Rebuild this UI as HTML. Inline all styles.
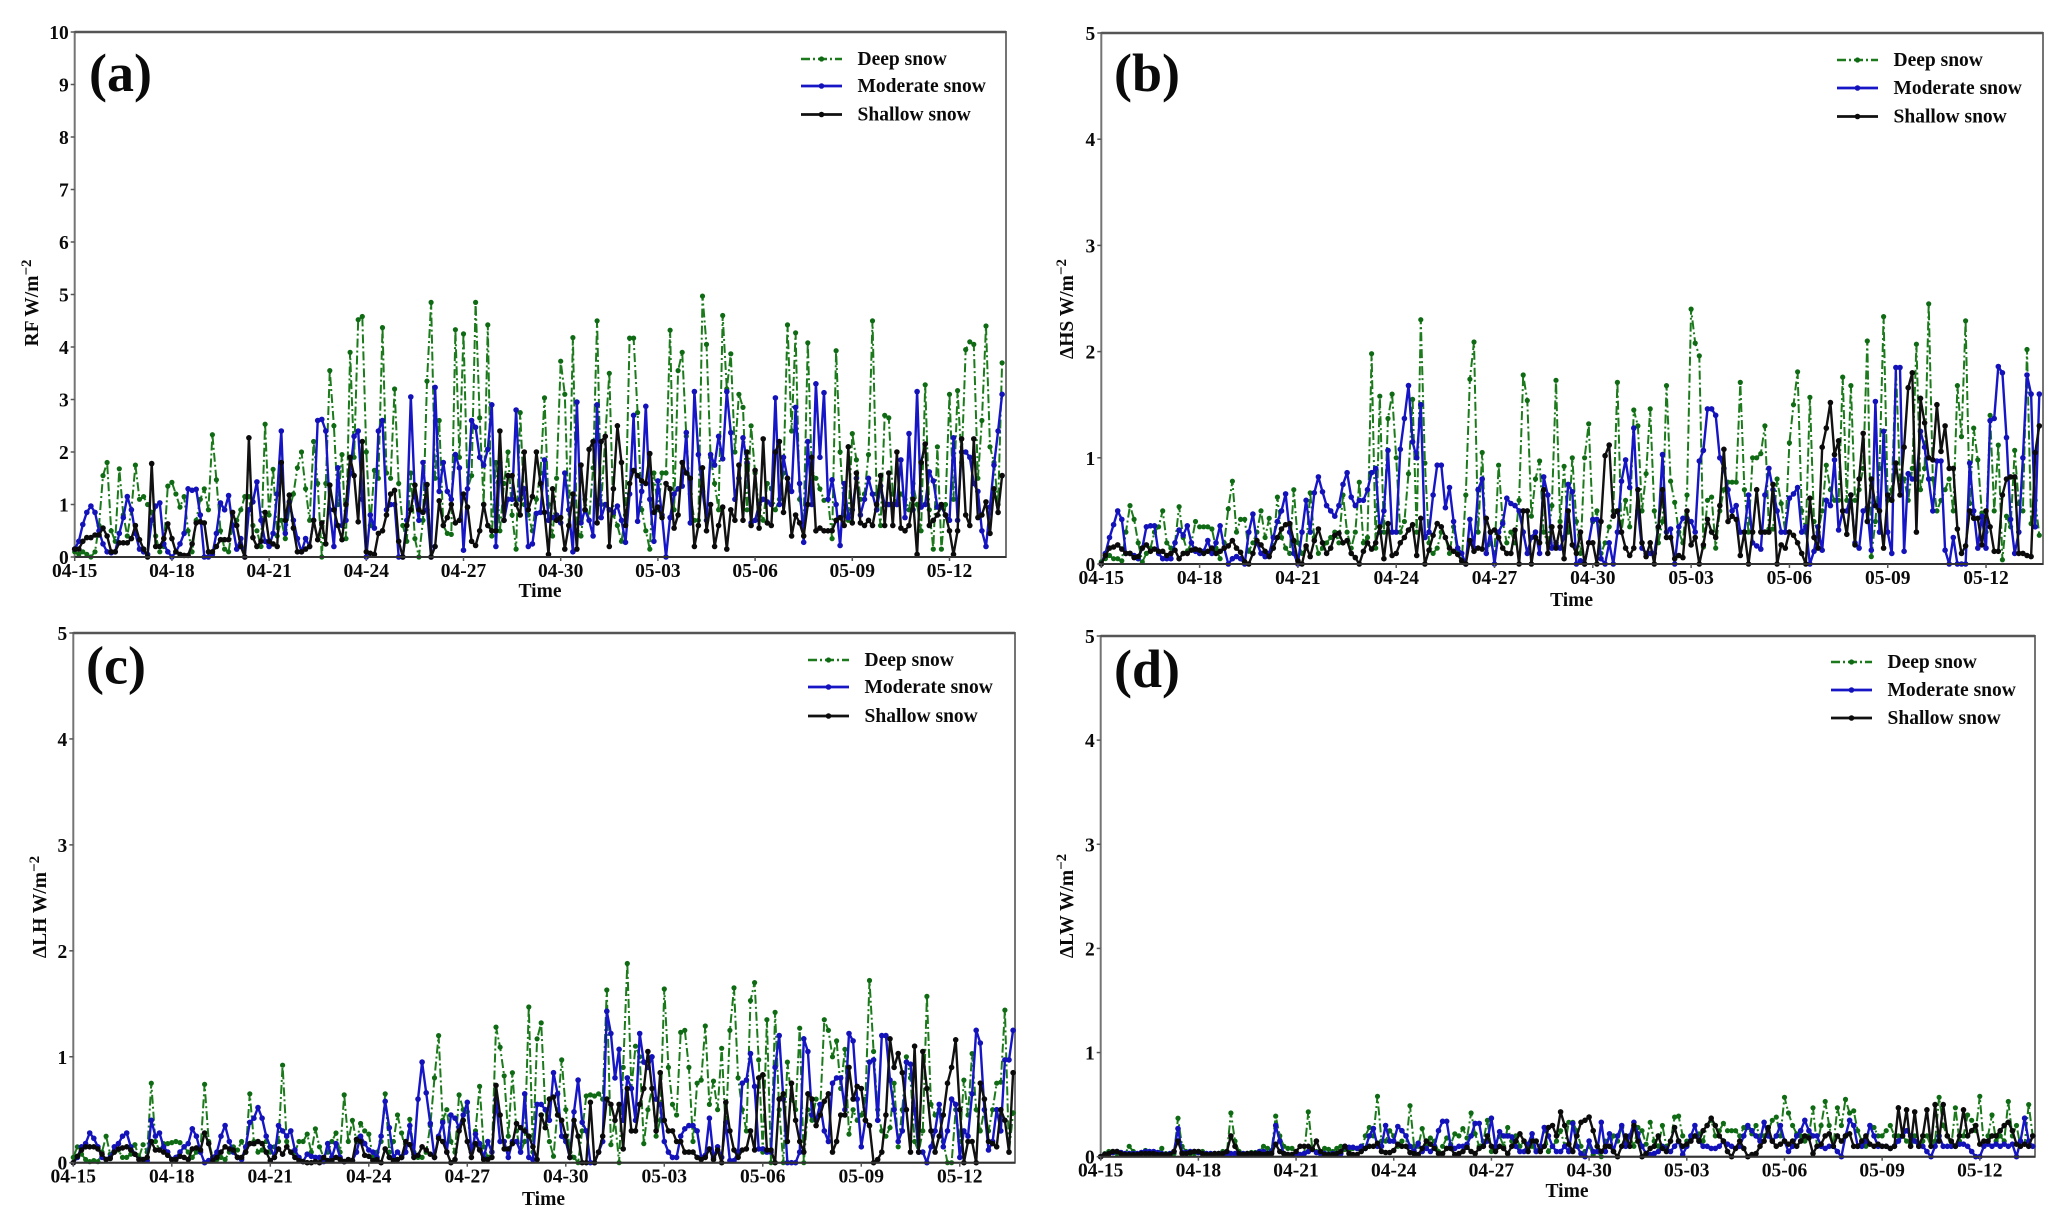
<!DOCTYPE html>
<html lang="en">
<head>
<meta charset="utf-8">
<title>Radiative forcing and flux differences by snow depth</title>
<style>
html,body{margin:0;padding:0;background:#fff;}
svg{display:block;}
text{font-family:"Liberation Serif",serif;font-weight:bold;fill:#0a0a0a;}
</style>
</head>
<body>
<svg id="figure" xmlns="http://www.w3.org/2000/svg" width="2067" height="1224" viewBox="0 0 2067 1224"></svg>
<script>
const dateLabels = ['04-15','04-18','04-21','04-24','04-27','04-30','05-03','05-06','05-09','05-12'];
const seriesNames = ['Deep snow','Moderate snow','Shallow snow'];
const yTicksA = [0,1,2,3,4,5,6,7,8,9,10];
const yTicksOther = [0,1,2,3,4,5];

const rfDeep = [
.1,.05,.1,.05,0,.1,.6,1.55,
1.8,.5,.3,1.68,.8,.4,.9,1.75,
1.1,1.15,1,.85,.4,.1,.2,1.35,
1.42,1.2,.95,1.15,.5,.1,.7,1.1,
1.3,.9,2.33,1.47,.5,.15,.1,.6,
.7,.9,1.15,1.15,.6,.5,.2,2.53,
.8,1.67,.4,.7,.35,.9,1.2,1.7,
2,1.3,.7,2.2,1.4,0,1.4,3.55,
2.5,1,1.95,.35,3.9,1.9,4.52,4.58,
2,.6,1.65,1.5,4.37,1.6,1.5,3.2,
1.4,.6,.3,1.6,.35,0,.7,3.35,
4.85,1.5,2.6,.6,.45,.43,4.33,1.9,
4.25,1.3,1.55,4.85,2.65,1,4.42,.4,
1.8,.5,1.4,2,.8,.15,2.75,1,
.8,.5,1.1,1.6,3.03,1,.4,1.5,
3.73,3.1,.6,4.18,.5,.4,1.1,.7,
1.7,4.5,1,2.3,3.5,.8,.6,.3,
.8,4.17,4.17,2.75,.9,.5,.15,1.6,
.9,1.6,1.6,4.32,.9,3.55,3.9,2.3,
1.2,.7,.7,4.97,4.05,1.9,1.4,.9,
4.6,3.2,3.87,2,3.1,2.85,.9,2.5,
1.6,.9,.7,1.4,1.3,.9,1.1,1.6,
4.42,2.4,4.27,1.1,.7,4.08,1.6,1.5,
1.3,1.08,1.1,.35,3.93,2,.8,.7,
2.35,1.85,1.1,1.2,1.95,4.5,1.2,.6,
2.7,2.65,1.2,1,1.2,1.1,.9,1.4,
1,.5,3.28,.9,.15,2.1,.15,1,
3.1,1.1,3.17,1.8,3.95,4.1,4.05,1.5,
2.6,4.4,2.1,1.8,1,3.7];
const rfModerate = [
.15,.3,.62,.85,.97,.85,.5,.25,
.1,.08,.1,.45,.75,1.15,.9,.45,
.15,.1,.05,.7,.97,1.03,.25,.1,
0,.1,.25,.45,1.3,1.27,1.29,.8,
0,0,.05,.45,1.03,.9,1.17,.6,
.15,.35,0,.9,1.05,1.43,.7,.3,
.2,.45,1.2,2.4,.45,1.05,.7,.35,
.1,.35,.2,.7,2.6,2.62,2.4,.9,
.2,1.7,.6,.7,1.6,2.3,2.4,1.1,
0,.8,.55,2.4,2.6,.9,1,1,
0,0,.7,3.05,1.15,.7,1.8,.9,
0,3.23,1.25,1.8,1.25,1.1,1.95,1.7,
.13,1.3,2.6,2.47,1.9,1.75,2.05,2.9,
.2,1.8,.7,1.1,1.1,2.8,1.1,1.3,
.2,.25,.83,.85,1.85,.7,.75,.8,
.65,1.6,.9,.1,2.95,.65,.9,.7,
.4,2.9,.75,1,.9,.85,.97,.7,
.28,1.2,2.7,.68,1.25,2.87,1.1,.3,
1.45,.8,0,.75,1.2,1.3,1.35,2.37,
.65,3.15,1.95,1.25,.7,1.95,1.75,2.3,
1.87,3.15,2.37,1.1,1.5,2.27,1.8,.65,
.7,1,1.1,1.05,1,3.03,1,1.9,
1.5,1.25,2.85,1.4,.28,2.2,1,3.3,
1.9,3.13,1.1,1.47,1,.22,1.4,.75,
.9,1.5,.8,1.1,1.5,1.2,.9,1.35,
1,1,1,1,1.85,.75,2.35,.9,
3.15,.95,1,1.62,1.45,.95,.95,.8,
.7,2.27,.7,2,2,1.9,1.4,1.25,
.5,.2,.95,1.75,2.4,3.1];
const rfShallow = [
.15,.15,.3,.37,.37,.42,.42,.55,
.4,.1,.1,.27,.27,.27,.35,.6,
.33,.15,0,1.78,.2,.2,.35,.63,
.35,.1,.05,.03,.03,.25,.65,.67,
.65,.1,.1,.2,.33,.33,.33,.85,
.6,.2,0,2.27,.37,.2,.3,.85,
.3,.25,.2,1.8,.7,1.18,.55,.1,
.1,.15,.2,.7,.33,.65,.25,1.37,
.9,.6,.33,1,1.9,1.55,.67,2.2,
.1,.07,.05,.45,.5,.8,1.2,1.27,
.3,0,.6,.9,1.37,.9,.85,1.38,
0,.2,1.07,.6,.75,1,.65,.7,
1.2,.95,.3,.22,.5,1,.6,.5,
.5,2.4,.7,1.55,1.55,1,.8,2,
.9,1.15,2,1.4,.85,.05,1.3,.7,
.75,.15,.6,1.2,.15,1.75,.9,2.05,
2.2,.65,2.2,2.3,.2,1.3,2.5,1.8,
.6,1.4,1.65,1.55,1.45,1.4,1.97,.85,
.95,.75,1.4,1.3,.55,.8,1.8,1.6,
1.5,.2,.6,1.7,.5,1,.2,.6,
.95,.15,.9,.7,1.75,.7,2,.6,
1.65,.55,2.25,.65,.6,2,2.2,.85,
1.5,.4,.8,.65,.4,1,1.9,.5,
.55,.5,.5,.5,.7,.75,.6,2.1,
.65,1.6,.65,.6,.7,.6,1,1.55,
.6,1.6,.6,2,.55,.5,.6,1.1,
.05,1.8,2.15,.6,.7,.8,1,.8,
.5,.05,.5,2.25,.8,.6,2.25,.75,
.8,1.05,.45,1.3,.85,1.55];

const hsDeep = [
.02,.05,.08,.05,.05,.03,.3,.55,
.42,.2,.02,.1,.15,.3,.35,.5,
.2,.15,.2,.54,.25,.12,.2,.4,
.35,.35,.35,.33,.15,.05,.2,.52,
.78,.3,.42,.42,.12,.2,.3,.5,
.25,.43,.15,.63,.25,.15,.1,.7,
.2,.1,.15,.67,.25,.1,.15,.2,
.25,.3,.2,.65,.3,.15,.3,.77,
.2,.25,1.98,.15,1.58,.3,1.37,1.6,
1,.3,.4,.85,1.55,.3,2.3,.95,
.2,.1,.15,.3,.25,.1,.35,.1,
.02,.65,1.74,2.09,.3,1.05,.1,.2,
.1,.93,.4,.2,.3,.2,.6,1.78,
1.54,.45,.8,.97,.3,.2,.55,1.73,
.4,.92,.3,1,.4,.1,1,1.32,
.4,.5,.1,.2,.35,.5,1.71,.3,
.6,.35,1.45,1.3,.5,.85,1.46,.5,
.2,.4,1.68,.78,.58,.3,.2,.65,
2.4,2.08,1.96,.16,.6,.63,.15,.5,
.7,.77,.77,.77,1.71,.7,.3,1,
1,1.04,1.3,.33,.33,.8,.57,.3,
1.14,1.5,1.81,.5,.3,1.57,.4,.3,
.5,.93,.7,.6,.6,1.76,.6,1.68,
.6,.7,.9,2.1,.07,.4,.9,2.33,
.6,.7,1.85,.8,.8,.6,.9,2.07,
.7,.9,2.45,.8,.5,.6,.7,.8,
.5,1.68,1.2,2.29,.57,1.28,.98,.48,
.3,1.4,.5,1.12,.04,.45,.35,1.07,
.57,.5,2.02,.38,.6,.27];
const hsModerate = [
0,.1,.25,.37,.5,.42,.1,.1,
.08,.05,.15,.35,.36,.36,.1,.05,
.05,.05,.2,.32,.27,.36,.2,.12,
.1,.12,.22,.1,.2,.36,.15,0,
.05,.07,.05,0,.3,.47,.2,.1,
.07,.1,.25,.4,.5,.66,.3,.1,
0,.3,.6,.3,.67,.82,.68,.55,
.5,.45,.55,.75,.86,.63,.55,.6,
.6,.7,.86,.9,.3,.5,1.07,.3,
.3,1.08,1.37,1.68,1.15,1,1.5,.25,
.3,.65,.93,.93,.53,.72,.4,.15,
.1,0,.42,.15,.7,.8,.1,.3,
0,.3,.38,.62,.57,.55,.5,.3,
.1,.25,.3,.1,.82,.65,.15,.2,
.15,.25,.75,.68,0,.03,0,.2,
.42,.42,.05,0,.2,0,.3,.78,
.98,.72,1.28,.5,.15,.1,.1,.1,
.35,1.03,.3,.33,0,.35,.43,.43,
.4,.3,.97,1.07,1.46,1.46,1.4,1,
.9,.7,.5,.55,.3,.3,.65,.2,
.17,.14,.65,.9,.7,.5,.3,.3,
.62,.66,.72,.3,.35,0,.12,.35,
.13,.6,.55,.98,.32,.5,.5,.65,
.2,.15,.5,.53,.13,1.53,.3,1.25,
.3,.1,1.85,1.85,.12,.85,.8,.8,
1.25,1.1,.8,.5,.97,.97,.13,0,
.25,0,0,0,.95,.5,.15,.45,
.15,1.35,1.37,1.86,1.8,1.19,.42,.1,
.3,1,1.78,1.6,.35,1.6];
const hsShallow = [
0,.08,.15,.16,.18,.14,.1,.1,
.06,.07,.15,.18,.12,.14,.12,.12,
.08,.1,.13,.05,.1,.1,.13,.14,
.13,.1,.12,.15,.1,.12,.15,.17,
.22,.15,.11,.02,0,.1,.22,.18,
.12,.07,.15,.25,.33,.37,.38,.22,
.03,0,.17,.07,.22,.33,.2,.1,
.15,.27,.29,.2,.22,.1,.06,0,
.12,.2,.14,.2,.35,.05,.38,.08,
.1,.2,.25,.32,.37,.08,.43,0,
.13,.27,.38,.35,.25,.15,.12,.09,
.03,0,.22,.12,.15,.14,.43,.3,
.32,.25,.15,.1,.1,.32,0,.5,
.5,0,.25,.2,.7,.1,.35,.15,
.35,.05,.5,.18,.1,.3,0,.2,
.2,0,.4,1.02,1.12,.45,.5,.3,
.15,.08,.15,.7,.2,.07,.2,0,
.35,.7,.25,.25,.05,.08,.06,.5,
.18,.25,0,.18,.42,.3,.25,.55,
1.08,.4,.45,.42,.08,.3,0,.3,
.7,.3,.3,.3,.75,0,.18,.15,
.3,.27,.2,.1,0,.62,.25,.15,
1.1,1.28,1.52,1.03,1.16,.5,.28,.65,
.18,.8,1.23,.4,.8,.55,.5,.15,
.65,.6,.95,.65,1.1,1.66,1.8,.3,
1.56,1.33,1,.98,1.5,1.06,1.3,.9,
.9,.33,.1,.17,.5,.43,.43,.18,
.5,.35,.12,.12,.65,.8,.82,.82,
.1,.1,.08,.07,1.05,1.3];

const lhDeep = [
.05,.15,.08,.03,.01,.02,.01,.1,
.25,.08,.1,.12,.05,.05,.08,.17,
.05,.17,.1,.75,.2,.12,.18,.18,
.19,.2,.19,.15,.1,.05,.1,.12,
.74,.2,.05,.03,.05,.03,.1,.15,
.12,.2,.1,.65,.2,.1,.12,.2,
.1,.15,.2,.92,.2,.1,.1,.2,
.2,.27,.1,.32,.15,.05,.1,.2,
.28,.1,.64,.2,.4,.2,.37,.3,
.27,.05,.1,.2,.65,.1,.2,.45,
.28,.1,.41,.1,.05,.05,.1,.35,
.8,1.2,.4,.5,.2,.1,.64,.5,
.48,.1,.3,.72,.15,.05,.1,1.28,
1.09,.82,.25,.85,.3,.1,.2,1.47,
.1,1.17,1.32,.5,.2,.06,.5,.97,
.5,.1,.05,0,.3,.63,.64,.63,
.65,.6,1.63,.17,.4,0,.9,1.88,
.7,1.1,1,.18,.5,.7,.25,.4,
1.64,.9,.55,.45,1.23,1.25,.9,.2,
.75,.78,1.29,.55,.77,.5,1.08,.3,
1.25,1.65,.8,.5,.3,1.53,1.7,.97,
.1,1.35,0,1.42,.5,0,.95,.6,
.5,1.27,0,.5,.4,.6,.5,1.35,
1.25,1,1.15,.7,1.07,.27,.5,.4,
.45,.6,1.72,1.05,.5,.3,.25,.33,
.75,.15,.5,1,.8,.2,.1,.3,
1.57,.55,.45,.5,.2,0,0,.5,
.2,.78,.45,1.03,.5,.3,.5,.3,
.5,.75,.76,1.44,.1,.47];
const lhModerate = [
0,.05,.15,.18,.28,.23,.15,.05,
.03,.05,.15,.18,.25,.28,.15,.08,
.03,.03,.02,.4,.25,.28,.15,.1,
.03,.05,.1,.15,.18,.32,.25,.1,
0,.02,.05,.1,.25,.35,.2,.1,
.05,.03,.15,.38,.42,.52,.42,.25,
.15,.05,.35,.3,.25,.3,.12,.05,
.01,.08,.06,.05,.05,.01,.18,.05,
.18,.05,.01,.02,.02,.1,.25,.18,
.12,.1,.05,.25,.58,.33,.05,.1,
.05,.1,.35,.08,.6,.95,.66,.37,
.05,.25,.38,.1,.45,.42,.33,.45,
.57,.1,.27,.18,.05,.2,.1,.6,
.2,.2,.05,.2,.2,.1,.65,.05,
.03,.55,.55,.5,.4,.85,.65,.25,
.2,.05,.48,.78,.38,.3,0,0,
.1,.2,1.43,1.22,.8,1.07,.4,.8,
.7,.4,1.22,.95,.9,1,.6,.55,
.2,.1,.05,.05,.25,.32,.35,.35,
.3,.05,.07,.42,.05,.15,.05,.38,
.02,.02,.1,.75,.78,1.03,.72,.13,
.13,.1,.1,.9,1.2,.6,0,0,
0,.1,1.17,1.05,.45,.4,.55,.3,
.2,.75,.8,.8,.5,1.22,1.15,.6,
.15,.4,.95,.97,.4,1.2,1.2,.78,
.5,.2,.3,.95,.93,.5,.1,.1,
0,.15,.3,.55,.15,.3,.6,.55,
.05,.3,.25,.65,1.25,1.13,.5,.12,
.2,.5,.3,.97,.97,1.25];
const lhShallow = [
0,.06,.12,.15,.15,.15,.13,.08,
.03,.04,.1,.13,.14,.15,.12,.08,
.03,.03,.05,.2,.12,.12,.1,.07,
.03,.03,.06,.05,.03,.13,.14,.12,
.28,.18,.02,.05,.1,.15,.13,.12,
.05,.05,.1,.18,.18,.2,.18,.1,
.02,.05,.13,.08,.15,.1,.05,.02,
.01,0,0,.01,0,.05,.02,.02,
.05,.03,.01,.03,.02,.22,.2,.07,
.06,.02,.03,0,.13,.05,.02,.03,
.05,.2,.17,.05,.07,.15,.12,.08,
.05,.23,.2,.1,0,.03,.3,.4,
.2,.05,.18,.12,.03,.03,.05,.73,
.45,.13,.13,.18,.37,.33,.3,.25,
.15,.03,.45,.33,.6,.62,.45,.4,
.25,.05,.4,.25,0,0,.57,0,
.1,.25,.6,.55,.4,.55,.13,.7,
.3,.3,.55,.7,1.05,.7,.3,.85,
.4,.3,.3,.2,.2,.1,.1,.1,
.05,.03,.05,.13,.03,.12,0,.57,
.3,.12,.05,.12,.13,.3,.12,.8,
.83,.12,.12,0,.6,.65,.2,.75,
.4,.2,.1,.65,.6,.35,.45,.58,
.65,.1,.2,.45,.45,.9,.6,.72,
.7,.4,.35,0,.03,.1,.45,1.17,
.9,1.03,.85,.5,.1,1.1,.1,1.05,
.7,.3,.1,.25,.45,.75,.9,1.16,
.5,0,.2,.2,0,.75,.6,.2,
.18,.15,.5,.4,.1,.85];

const lwDeep = [
0,.03,.05,.04,.03,.03,.03,.1,
.05,.03,.04,.06,.03,.03,.03,.08,
.03,.03,.03,.37,.1,.05,.03,.03,
.05,.05,.03,.03,.03,.03,.05,.04,
.42,.15,.05,.03,.03,.04,.04,.05,
.1,.08,.06,.39,.2,.1,.08,.08,
.04,.02,.03,.43,.08,.05,.04,.08,
.07,.05,.08,.1,.07,.05,.08,.08,
.05,.2,.28,.2,.58,.15,.15,.25,
.2,.1,.15,.1,.49,.1,.1,.27,
.1,.18,.15,.05,.1,.18,.12,.22,
.2,.27,.18,.42,.22,.1,.15,.35,
.05,.1,.2,.1,.28,.15,.2,.1,
.15,.1,.1,.05,.1,.28,.05,.1,
.15,.25,.1,.33,.33,.25,.1,.05,
.1,.02,.05,0,.15,.1,.2,.15,
.28,.15,.2,.1,.28,.25,.12,.33,
.15,.1,.3,.1,.15,.38,.39,.2,
.15,.2,.2,.22,.15,.3,.35,.2,
.25,.32,.25,.25,.25,.2,.28,.28,
.22,.3,.2,.2,.25,.35,.38,.2,
.57,.42,.3,.22,.2,.15,.2,.47,
.1,.3,.53,.3,.1,.47,.3,.55,
.42,.44,.25,.15,.1,.3,.28,.2,
.2,.25,.3,.2,.2,.2,.15,.12,
.2,.1,.15,.2,.1,.15,.57,.3,
.2,.1,.47,.15,.2,.4,.35,.25,
.58,.1,.2,.4,.15,.2,.15,.53,
.2,.3,.1,.12,.5,.2];
const lwModerate = [
0,.02,.03,.04,.05,.04,.03,.03,
.03,.03,.04,.05,.05,.05,.04,.03,
.02,.03,.05,.27,.04,.04,.05,.05,
.04,.03,.03,.03,.03,.03,.03,.03,
.03,.03,.02,.03,.03,.03,.03,.05,
.05,.03,.05,.3,.15,.03,.02,.02,
.03,.02,.03,.05,.07,.04,.03,.03,
.02,.03,.03,.03,.1,.09,.09,.08,
.1,.08,.2,.27,.1,.1,.3,.15,
.15,.29,.25,.2,.1,.05,.13,.05,
.08,.05,.1,.25,.34,.34,.1,.08,
.1,.1,.12,.2,.32,.32,.1,.15,
.37,.1,.24,.2,.2,.19,.1,.05,
.05,.12,.22,.05,.1,.28,.2,.1,
.05,.05,.1,.05,.32,.1,.03,0,
.15,.05,.05,.33,.05,.22,.05,.2,
.3,.1,.2,.33,.22,.1,.03,.02,
.03,.05,.1,.08,.05,.1,.15,.02,
.1,.2,.3,.15,.1,.1,.08,.08,
.1,.15,.12,.1,.08,.1,.2,.3,
.25,.2,.15,.33,.2,.15,.2,.3,
.15,.05,.1,.2,.25,.35,.25,.2,
.2,.1,.08,.1,.1,.05,0,.2,
.35,.3,.1,.1,.15,.3,.2,.1,
.1,.1,.08,.1,.15,.2,.25,.2,
.15,.1,.1,.05,0,.1,.2,.1,
.1,.1,.1,.12,.12,.1,.05,0,
0,.1,.12,.1,.12,.1,.12,.1,
.12,0,.15,.37,.15,.1];
const lwShallow = [
0,.02,.03,.05,.05,.03,.02,.02,
.02,.02,.03,.03,.03,.03,.02,.02,
.02,.02,.05,.15,.03,.03,.04,.05,
.05,.03,.02,.02,.03,.03,.03,.05,
.2,.1,.03,.02,.03,.03,.03,.03,
.02,.03,.03,.12,.05,.03,.02,.02,
.05,.1,.1,.1,.07,.15,.05,.02,
.02,.02,.03,.05,.1,.03,.02,.02,
.05,.08,.1,.1,.13,.05,.04,.04,
.06,.12,.1,.1,.04,.03,.02,.08,
.15,.12,.08,.03,.03,.08,.08,.02,
.03,.05,.09,.05,.03,.08,.1,.2,
.1,.05,.1,.08,.03,.1,.15,.22,
.15,.05,.15,.15,.05,.1,.28,.3,
.2,.43,.3,.12,.05,.2,.33,.35,
.38,.25,.1,.05,.1,.1,.05,0,
.1,.2,.1,.3,.15,0,.03,.08,
.1,.2,.08,.05,.15,.28,.15,.1,
.12,.15,.2,.15,.25,.3,.37,.3,
.2,.15,.05,0,.08,.15,.08,0,
.02,.03,.1,.15,.28,.15,.1,.12,
.15,.12,.15,.1,.15,.2,.18,.03,
.1,.12,.2,.22,.1,.2,.15,.2,
.22,.1,.1,.15,.2,.12,.1,.12,
.1,.1,.08,.1,.47,.2,.45,.1,
.43,.1,.2,.45,.1,.5,.15,.5,
.2,.15,.1,.2,.45,.2,.25,.3,
.12,.15,.15,.2,.2,.25,.3,.33,
.25,.12,.1,.12,.1,.2];

const SVGNS = 'http://www.w3.org/2000/svg';
const root = document.getElementById('figure');

function make(parent, tag, attrs, txt) {
  const el = document.createElementNS(SVGNS, tag);
  for (const k in attrs) el.setAttribute(k, attrs[k]);
  if (txt !== undefined) el.textContent = txt;
  parent.appendChild(el);
  return el;
}

const styles = [
  {stroke:'#1c7a1c', width:2, dash:'9 3 2 3', dot:'#0f6a14', r:2.6},
  {stroke:'#1616c6', width:2.4, dash:'none', dot:'#1212b8', r:2.8},
  {stroke:'#111111', width:2.4, dash:'none', dot:'#0a0a0a', r:2.8}
];

const panels = [
  {key:'a', letter:'(a)', letterX:89, letterY:91, left:74.7, right:1006, top:32, bottom:557, step:4.05, yTop:10,
   ticks:yTicksA, series:[rfDeep,rfModerate,rfShallow], title:'RF W/m', titleX:38, titleY:303, timeX:540, timeY:597,
   legX:801, legY:[59,86,114.5]},
  {key:'b', letter:'(b)', letterX:1114, letterY:91, left:1101.3, right:2043, top:33, bottom:564, step:4.096, yTop:5,
   ticks:yTicksOther, series:[hsDeep,hsModerate,hsShallow], title:'ΔHS W/m', titleX:1073, titleY:309, timeX:1571.6, timeY:606,
   legX:1837, legY:[60,88,116.5]},
  {key:'c', letter:'(c)', letterX:86, letterY:683.5, left:73.3, right:1015, top:633, bottom:1162.7, step:4.104, yTop:5,
   ticks:yTicksOther, series:[lhDeep,lhModerate,lhShallow], title:'ΔLH W/m', titleX:46, titleY:907, timeX:543.5, timeY:1205,
   legX:808, legY:[660,687,716]},
  {key:'d', letter:'(d)', letterX:1114, letterY:687, left:1100.7, right:2035, top:636, bottom:1156.7, step:4.07, yTop:5,
   ticks:yTicksOther, series:[lwDeep,lwModerate,lwShallow], title:'ΔLW W/m', titleX:1073, titleY:906, timeX:1567, timeY:1197,
   legX:1831, legY:[662,690,718]}
];

panels.forEach(function (p) {
  const xAxis = function (i) { return p.left + i * p.step; };
  const yAxis = function (v) { return p.bottom - (v / p.yTop) * (p.bottom - p.top); };

  const g = make(root, 'g', {});
  
  

  const frame = make(g, 'rect', {x:p.left, y:p.top, width:p.right - p.left, height:p.bottom - p.top, fill:'#fff', stroke:'#747474', 'stroke-width':2});
  
  

  p.series.forEach(function (values, s) {
    const st = styles[s];
    const sg = make(g, 'g', {});
    
    
    const pts = values.map(function (v, i) { return xAxis(i).toFixed(1) + ',' + yAxis(v).toFixed(1); }).join(' ');
    const line = make(sg, 'polyline', {points:pts, fill:'none', stroke:st.stroke, 'stroke-width':st.width, 'stroke-dasharray':st.dash, 'stroke-linejoin':'round'});
    
    
    values.forEach(function (v, i) {
      const dot = make(sg, 'circle', {cx:xAxis(i).toFixed(1), cy:yAxis(v).toFixed(1), r:st.r, fill:st.dot});
      
      
    });
  });

  const topLine = make(g, 'line', {x1:p.left, x2:p.right, y1:p.top, y2:p.top, stroke:'#555', 'stroke-width':2.5});
  
  
  const baseLine = make(g, 'line', {x1:p.left, x2:p.right, y1:p.bottom, y2:p.bottom, stroke:'#333', 'stroke-width':2});
  
  

  p.ticks.forEach(function (t) {
    const tick = make(g, 'line', {x1:p.left - 4, x2:p.left, y1:yAxis(t), y2:yAxis(t), stroke:'#555', 'stroke-width':1.5});
    
    
    const lab = make(g, 'text', {x:p.left - 6, y:yAxis(t) + 7, 'text-anchor':'end', 'font-size':19.5}, String(t));
    
    
  });

  dateLabels.forEach(function (d, k) {
    const px = xAxis(k * 24);
    const tick = make(g, 'line', {x1:px, x2:px, y1:p.bottom, y2:p.bottom + 4, stroke:'#555', 'stroke-width':1.5});
    
    
    const lab = make(g, 'text', {x:px, y:p.bottom + 20, 'text-anchor':'middle', 'font-size':19.5}, d);
    
    
  });

  const timeLab = make(g, 'text', {x:p.timeX, y:p.timeY, 'text-anchor':'middle', 'font-size':19.5}, 'Time');
  
  

  const yTitle = make(g, 'text', {transform:'translate(' + p.titleX + ',' + p.titleY + ') rotate(-90)', 'text-anchor':'middle', 'font-size':19.5}, p.title);
  
  
  make(yTitle, 'tspan', {dy:-7, 'font-size':15}, '−2');

  const letter = make(g, 'text', {x:p.letterX, y:p.letterY, 'font-size':54}, p.letter);
  
  

  seriesNames.forEach(function (nm, s) {
    const st = styles[s];
    const lg = make(g, 'g', {});
    
    
    const ly = p.legY[s];
    make(lg, 'line', {x1:p.legX, x2:p.legX + 41, y1:ly, y2:ly, stroke:st.stroke, 'stroke-width':st.width + 0.4, 'stroke-dasharray':st.dash});
    make(lg, 'circle', {cx:p.legX + 20.5, cy:ly, r:st.r, fill:st.dot});
    make(lg, 'text', {x:p.legX + 56.5, y:ly + 6, 'font-size':19.5}, nm);
  });
});
</script>
</body>
</html>
